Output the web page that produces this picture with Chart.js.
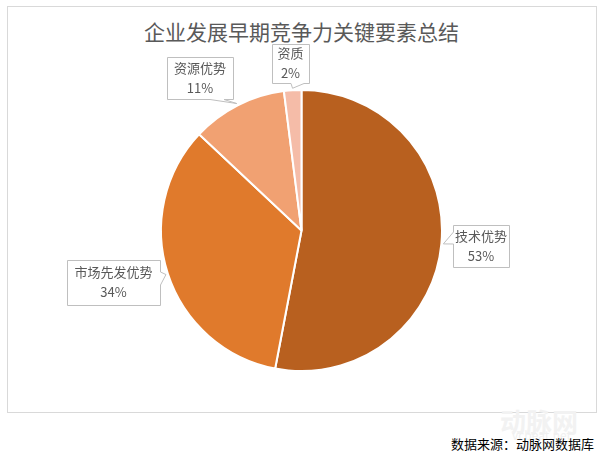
<!DOCTYPE html>
<html lang="zh">
<head>
  <meta charset="UTF-8">
  <title>企业发展早期竞争力关键要素总结</title>
  <script src="https://cdn.jsdelivr.net/npm/chart.js"></script>
  <style>
    body {
      margin: 0;
      width: 603px;
      height: 452px;
      background: #fff;
      position: relative;
      overflow: hidden;
      font-family: "Noto Sans CJK SC", "Noto Sans", sans-serif;
    }
    .frame {
      position: absolute;
      left: 7px;
      top: 6px;
      width: 588px;
      height: 405px;
      border: 1px solid #d9d9d9;
    }
    .title {
      position: absolute;
      left: 0;
      width: 603px;
      top: 16px;
      text-align: center;
      font-size: 21px;
      color: #595959;
      line-height: 30px;
    }
    .wm {
      position: absolute;
      left: 500px;
      top: 402px;
      color: #f2f2f2;
      font-size: 26px;
      font-weight: bold;
    }
    .wm2 {
      position: absolute;
      left: 512px;
      top: 426px;
      color: #f0f0f0;
      font-size: 12px;
    }
    .source {
      position: absolute;
      right: 9px;
      top: 434px;
      font-size: 13px;
      color: #000;
    }
    .chart-box {
      position: absolute;
      left: 0;
      top: 0;
      width: 603px;
      height: 452px;
    }
  </style>
</head>
<body>
  <div class="frame"></div>
  <div class="title">企业发展早期竞争力关键要素总结</div>
  <div class="wm">动脉网</div>
  <div class="wm2">vcbeat.net</div>
  <div class="source">数据来源：动脉网数据库</div>
  <div class="chart-box"><canvas id="pieChart" width="603" height="452"></canvas></div>

  <script>
    const categories = ['技术优势', '市场先发优势', '资源优势', '资质'];
    const shares = [53, 34, 11, 2];
    const sliceColors = ['#b8601f', '#e07a2c', '#f1a172', '#f5bca8'];

    // callout boxes (page px), tail on one side pointing at slice edge
    const callouts = [
      { x: 453, y: 225, w: 56, h: 42, side: 'left', base: [232, 244] },
      { x: 67, y: 260, w: 93, h: 45, side: 'right', base: [272, 285] },
      { x: 167, y: 57, w: 66, h: 42, side: 'bottom', base: [210, 224] },
      { x: 272, y: 44, w: 37, h: 39, side: 'bottom', base: [291, 304] }
    ];

    const calloutPlugin = {
      id: 'callouts',
      afterDatasetsDraw(chart) {
        const ctx = chart.ctx;
        const arcs = chart.getDatasetMeta(0).data;
        arcs.forEach((arc, i) => {
          const c = callouts[i];
          if (!c) return;
          const mid = (arc.startAngle + arc.endAngle) / 2;
          const tx = arc.x + Math.cos(mid) * (arc.outerRadius + 2);
          const ty = arc.y + Math.sin(mid) * (arc.outerRadius + 2);
          const x = c.x + 0.5, y = c.y + 0.5, w = c.w, h = c.h;
          ctx.save();
          ctx.beginPath();
          ctx.moveTo(x, y);
          ctx.lineTo(x + w, y);
          if (c.side === 'right') {
            ctx.lineTo(x + w, c.base[0]);
            ctx.lineTo(tx, ty);
            ctx.lineTo(x + w, c.base[1]);
          }
          ctx.lineTo(x + w, y + h);
          if (c.side === 'bottom') {
            ctx.lineTo(c.base[1], y + h);
            ctx.lineTo(tx, ty);
            ctx.lineTo(c.base[0], y + h);
          }
          ctx.lineTo(x, y + h);
          if (c.side === 'left') {
            ctx.lineTo(x, c.base[1]);
            ctx.lineTo(tx, ty);
            ctx.lineTo(x, c.base[0]);
          }
          ctx.closePath();
          ctx.fillStyle = '#ffffff';
          ctx.fill();
          ctx.lineWidth = 1;
          ctx.strokeStyle = '#bfbfbf';
          ctx.stroke();

          ctx.fillStyle = '#595959';
          ctx.font = '13px "Noto Sans CJK SC", sans-serif';
          ctx.textAlign = 'center';
          ctx.textBaseline = 'middle';
          const cx = c.x + w / 2, cy = c.y + h / 2;
          ctx.fillText(chart.data.labels[i], cx, cy - 10);
          ctx.fillText(chart.data.datasets[0].data[i] + '%', cx, cy + 10);
          ctx.restore();
        });
      }
    };

    new Chart(document.getElementById('pieChart'), {
      type: 'pie',
      data: {
        labels: categories,
        datasets: [{
          data: shares,
          backgroundColor: sliceColors,
          borderColor: '#ffffff',
          borderWidth: 2
        }]
      },
      options: {
        responsive: false,
        animation: false,
        layout: { padding: { top: 89, bottom: 80, left: 100, right: 100 } },
        plugins: {
          legend: { display: false },
          tooltip: { enabled: false },
          title: { display: false }
        }
      },
      plugins: [calloutPlugin]
    });
  </script>
</body>
</html>
